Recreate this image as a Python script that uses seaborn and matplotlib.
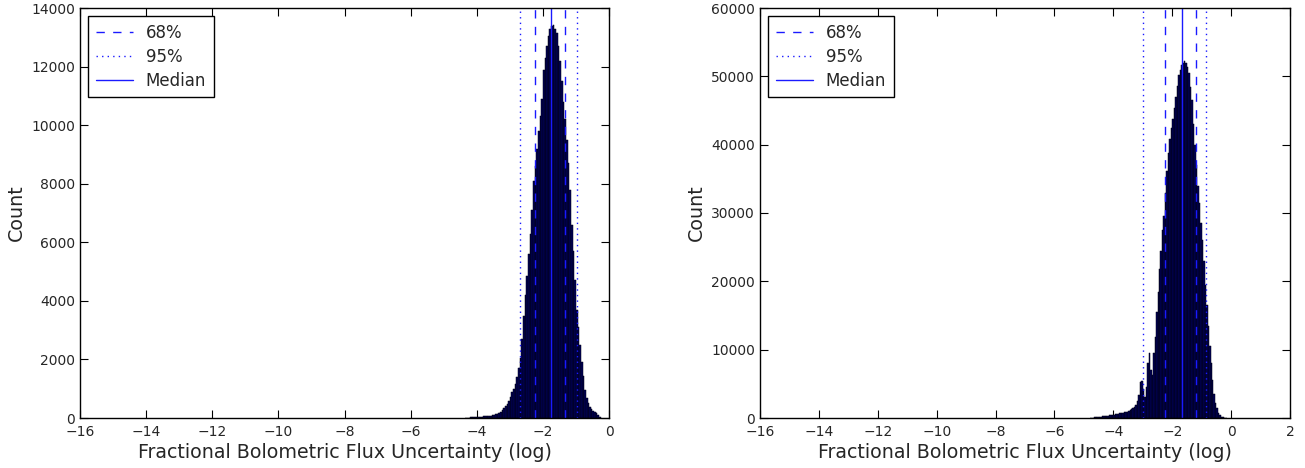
import numpy as np
import pandas as pd
import matplotlib
matplotlib.use("Agg")
import matplotlib.pyplot as plt
import seaborn as sns

# ---- data (bin width 0.05) ----
left_bin_start = -4.35
left_counts = [8, 12, 15, 18, 20, 24, 28, 32, 36, 42, 48, 54, 60, 68, 76, 85, 95, 108,
               122, 140, 165, 210, 280, 350, 420, 490, 580, 720, 880, 1000, 1150, 1400,
               1700, 2050, 2700, 3500, 4200, 4850, 5600, 6300, 7100, 8100, 8600, 9200,
               9800, 10300, 10900, 11900, 12300, 12700, 13050, 13300, 13400, 13420,
               13300, 13150, 12700, 12200, 11500, 10800, 10200, 9500, 8700, 7800, 6600,
               5700, 4700, 3700, 3100, 2500, 1900, 1450, 960, 700, 520, 380, 300, 250,
               210, 175, 110, 40]
left_median = -1.75
left_68 = [-2.24, -1.33]
left_95 = [-2.69, -0.97]

right_bin_start = -4.80
right_counts = [20, 40, 60, 80, 100, 130, 160, 190, 220, 250, 280, 320, 350, 380, 410,
                440, 480, 520, 570, 620, 680, 740, 800, 860, 900, 950, 1050, 1150, 1250,
                1400, 1600, 1950, 2500, 3300, 5300, 5400, 4200, 3100, 4500, 8000, 9550,
                7000, 6300, 9500, 11900, 15500, 18500, 21800, 24500, 27500, 29500, 33000,
                36200, 38800, 40800, 42400, 43800, 45300, 47000, 48600, 50200, 51000,
                51600, 52000, 52270, 51900, 51300, 50500, 48500, 46500, 43000, 40000,
                37000, 34000, 31500, 28500, 26000, 23000, 19500, 16500, 13500, 10500,
                8000, 5600, 3500, 2200, 1400, 800, 400, 200, 100, 40, 15]
right_median = -1.68
right_68 = [-2.23, -1.19]
right_95 = [-2.98, -0.84]

xlabel = "Fractional Bolometric Flux Uncertainty (log)"
ylabel = "Count"
legend_labels = ["68%", "95%", "Median"]

BIN_W = 0.05

sns.set_style("ticks", {"xtick.direction": "in", "ytick.direction": "in"})
plt.rcParams['font.family'] = ['DejaVu Sans']
plt.rcParams['xtick.top'] = True
plt.rcParams['ytick.right'] = True

fig = plt.figure(figsize=(13.05, 4.68), dpi=100)
ax1 = fig.add_axes([80/1305, 50/468, 529/1305, 410/468])
ax2 = fig.add_axes([760/1305, 50/468, 530/1305, 410/468])

line_col = "#1a1aff"

def panel(ax, start, counts, med, p68, p95, xlim, ylim, yticks):
    counts = np.asarray(counts, dtype=float)
    edges = start + BIN_W * np.arange(len(counts) + 1)
    centers = (edges[:-1] + edges[1:]) / 2
    df = pd.DataFrame({"x": centers, "w": counts})
    sns.histplot(data=df, x="x", weights="w", bins=[float(e) for e in edges], ax=ax,
                 color="#000058", edgecolor="#000010", linewidth=0.35, alpha=1.0)
    h1 = None
    for v in p68:
        h1 = ax.axvline(v, color=line_col, ls=(0, (6, 6)), lw=1.0)
    for v in p95:
        h2 = ax.axvline(v, color=line_col, ls=(0, (1, 3)), lw=1.0)
    h3 = ax.axvline(med, color=line_col, ls="-", lw=1.0)
    ax.set_xlim(*xlim)
    ax.set_ylim(*ylim)
    ax.set_xticks(np.arange(xlim[0], xlim[1] + 0.1, 2))
    ax.set_yticks(yticks)
    ax.set_xlabel(xlabel, fontsize=13.7, labelpad=3)
    ax.set_ylabel(ylabel, fontsize=13.7)
    ax.tick_params(labelsize=10, length=6, width=0.8, color="black")
    ax.tick_params(axis="x", pad=5)
    for s in ax.spines.values():
        s.set_visible(True)
        s.set_color("black")
        s.set_linewidth(1.0)
    leg = ax.legend([h1, h2, h3], legend_labels, loc="upper left", fontsize=12,
                    frameon=True, fancybox=False, framealpha=1, edgecolor="black",
                    handlelength=2.2, borderpad=0.45, labelspacing=0.35)
    leg.get_frame().set_linewidth(1.0)

panel(ax1, left_bin_start, left_counts, left_median, left_68, left_95,
      (-16, 0), (0, 14000), np.arange(0, 14001, 2000))
panel(ax2, right_bin_start, right_counts, right_median, right_68, right_95,
      (-16, 2), (0, 60000), np.arange(0, 60001, 10000))

fig.savefig("out.png", dpi=100)
